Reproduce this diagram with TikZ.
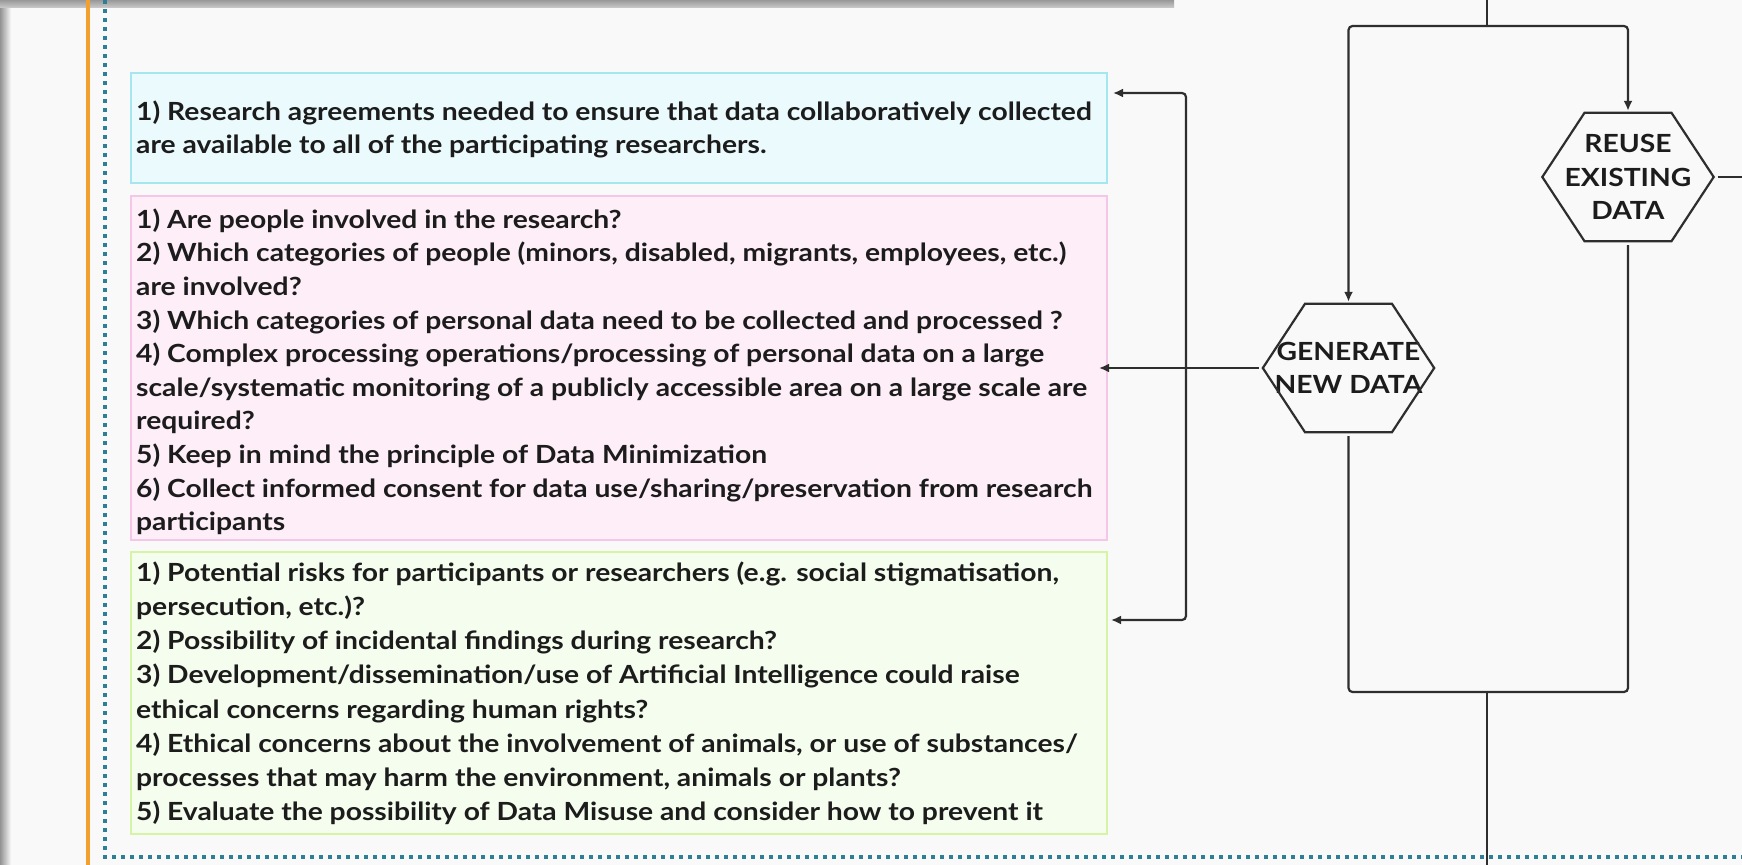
\documentclass[tikz,border=0pt]{standalone}
\usepackage{fontspec}
\setmainfont{Lato}[FakeStretch=1.13]
\usetikzlibrary{arrows.meta,calc}
\definecolor{bg}{HTML}{F9F9F9}
\definecolor{cyanfill}{HTML}{EBFAFC}
\definecolor{cyanline}{HTML}{A6E6EE}
\definecolor{pinkfill}{HTML}{FDEEF8}
\definecolor{pinkline}{HTML}{F6C6E6}
\definecolor{greenfill}{HTML}{F5FDEE}
\definecolor{greenline}{HTML}{D6F4A6}
\definecolor{orangeline}{HTML}{F4A02E}
\definecolor{dotblue}{HTML}{2E7E96}
\definecolor{linec}{HTML}{2E2E2E}
\definecolor{textc}{HTML}{1C1C1C}
\begin{document}
\begin{tikzpicture}[x=1bp,y=-1bp,
  infobox/.style={line width=1.6bp, minimum width=976bp, anchor=north west, inner sep=0pt},
  infotext/.style={font=\fontsize{25bp}{33.6bp}\selectfont\bfseries, align=left, anchor=north west, inner sep=0pt, text=textc},
  conn/.style={draw=linec, line width=2.2bp, rounded corners=4bp},
  arr/.style={conn, -{Latex[length=10bp,width=9bp]}},
  hexnode/.style={minimum width=171bp, minimum height=128bp, inner sep=0pt, font=\fontsize{25bp}{33.5bp}\selectfont\bfseries, align=center, text=textc},
  hexline/.style={draw=linec, line width=2.2bp, line join=miter}
]
\useasboundingbox (0,0) rectangle (1742,865);
\fill[bg] (0,0) rectangle (1742,865);
% card shadow
\shade[left color=gray!85, right color=bg] (0,0) rectangle (11,865);
\shade[top color=gray!80, bottom color=gray!45] (0,0) rectangle (1174,7);
% orange and dotted frame lines
\draw[orangeline, line width=4bp] (88,0) -- (88,865);
\draw[dotblue, line width=3.5bp, dash pattern=on 3.5bp off 5.5bp] (105,0) -- (105,857) -- (1742,857);

% boxes
\node[infobox, draw=cyanline, fill=cyanfill, minimum height=110bp] (cyanbox) at (130,72) {};
\node[infobox, draw=pinkline, fill=pinkfill, minimum height=344bp] (pinkbox) at (130,195) {};
\node[infobox, draw=greenline, fill=greenfill, minimum height=282bp] (greenbox) at (130,551) {};

\node[infotext] (cyantext) at (136,95) {\rule{0pt}{25bp}1) Research agreements needed to ensure that data collaboratively collected\\
are available to all of the participating researchers.};

\node[infotext] (pinktext) at (136,203) {\rule{0pt}{25bp}1) Are people involved in the research?\\
2) Which categories of people (minors, disabled, migrants, employees, etc.)\\
are involved?\\
3) Which categories of personal data need to be collected and processed ?\\
4) Complex processing operations/processing of personal data on a large\\
scale/systematic monitoring of a publicly accessible area on a large scale are\\
required?\\
5) Keep in mind the principle of Data Minimization\\
6) Collect informed consent for data use/sharing/preservation from research\\
participants};

\node[infotext, font=\fontsize{25bp}{34.2bp}\selectfont\bfseries] (greentext) at (136,556) {\rule{0pt}{25bp}1) Potential risks for participants or researchers (e.g. social stigmatisation,\\
persecution, etc.)?\\
2) Possibility of incidental findings during research?\\
3) Development/dissemination/use of Artificial Intelligence could raise\\
ethical concerns regarding human rights?\\
4) Ethical concerns about the involvement of animals, or use of substances/\\
processes that may harm the environment, animals or plants?\\
5) Evaluate the possibility of Data Misuse and consider how to prevent it};

% hexagons
\node[hexnode] (gen) at (1348.5,368) {GENERATE\\NEW DATA};
\node[hexnode] (reuse) at (1628,177) {REUSE\\EXISTING\\DATA};
\foreach \n in {gen,reuse}{
  \draw[hexline] (\n.west) -- ([xshift=-43.5bp]\n.north) -- ([xshift=43.5bp]\n.north)
    -- (\n.east) -- ([xshift=43.5bp]\n.south) -- ([xshift=-43.5bp]\n.south) -- cycle;
}

% coordinates
\coordinate (topin) at (1487,0);
\coordinate (split) at (1487,26);
\coordinate (merge) at (1487,692);
\coordinate (botout) at (1487,865);
\coordinate (rightout) at (1742,177);
\coordinate (bus) at (1186,368);
\coordinate (ctip) at (1113,93);
\coordinate (gtip) at (1111,620);
\coordinate (ptip) at (1099,368);

% connectors
\draw[conn] (topin) -- (split);
\draw[arr, shorten >=2bp] (split) -| (gen.north);
\draw[arr, shorten >=2bp] (split) -| (reuse.north);
\draw[conn, shorten <=4bp] (reuse.east) -- (rightout);
\draw[arr, shorten <=4bp] (gen.west) -- (ptip);
\draw[conn, {Latex[length=10bp,width=9bp]}-{Latex[length=10bp,width=9bp]}] (ctip) -| (bus) |- (gtip);
\draw[conn, shorten <=4bp] (gen.south) |- (merge);
\draw[conn, shorten <=4bp] (reuse.south) |- (merge);
\draw[conn] (merge) -- (botout);
\end{tikzpicture}
\end{document}
